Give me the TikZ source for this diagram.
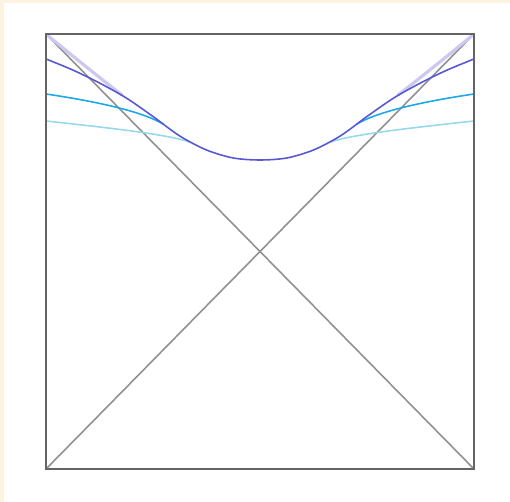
\documentclass[tikz,border=0pt]{standalone}
\usepackage{tikz}

\definecolor{paper}{RGB}{254,242,224}
\definecolor{framegray}{RGB}{100,100,100}
\definecolor{diaggray}{RGB}{145,145,145}
\definecolor{sliceblue}{RGB}{88,88,212}
\definecolor{slicecyan}{RGB}{28,168,232}
\definecolor{slicepale}{RGB}{150,216,236}
\definecolor{slicelav}{RGB}{206,200,240}

\begin{document}
\begin{tikzpicture}[
		x=0.02cm, y=-0.02cm,
		box/.style={draw=framegray, line width=1.4pt},
		diag/.style={draw=diaggray, line width=0.9pt},
		slice/.style={line width=0.9pt, line join=round, line cap=round}
	]

	% Paper
	\fill[paper] (0,0) rectangle (510,502);
	\fill[white] (4,3) rectangle (510,502);
	\useasboundingbox (0,0) rectangle (510,502);

	% Corners
	\coordinate (nw) at (46,34);
	\coordinate (ne) at (474,34);
	\coordinate (sw) at (46,469);
	\coordinate (se) at (474,469);

	% Diagonals
	\draw[diag] (nw) -- (se);
	\draw[diag] (ne) -- (sw);

	% Nearly null slice along the corners
	\draw[slice, slicelav, line width=1.8pt]
		(47,35) .. controls (80,62) and (105,82) .. (122,95);
	\draw[slice, slicelav, line width=1.8pt]
		(473,35) .. controls (440,62) and (415,82) .. (398,95);

	% Flatter slices, merging into the main one
	\draw[slice, slicecyan]
		(46,94) .. controls (100,102) and (143,112) .. (163,124);
	\draw[slice, slicecyan]
		(474,94) .. controls (420,102) and (377,112) .. (357,124);
	\draw[slice, slicepale]
		(46,121) .. controls (110,128) and (165,134) .. (190,142);
	\draw[slice, slicepale]
		(474,121) .. controls (410,128) and (355,134) .. (330,142);

	% Main slice
	\draw[slice, sliceblue] plot[smooth] coordinates
		{(46,59) (72.75,70) (99.5,83) (126.25,98) (153,116.5) (179.75,136)
		 (206.5,150) (233.25,158) (260,160) (286.75,158) (313.5,150)
		 (340.25,136) (367,116.5) (393.75,98) (420.5,83) (447.25,70) (474,59)};

	% Frame
	\draw[box] (nw) -- (ne) -- (se) -- (sw) -- cycle;

\end{tikzpicture}
\end{document}
